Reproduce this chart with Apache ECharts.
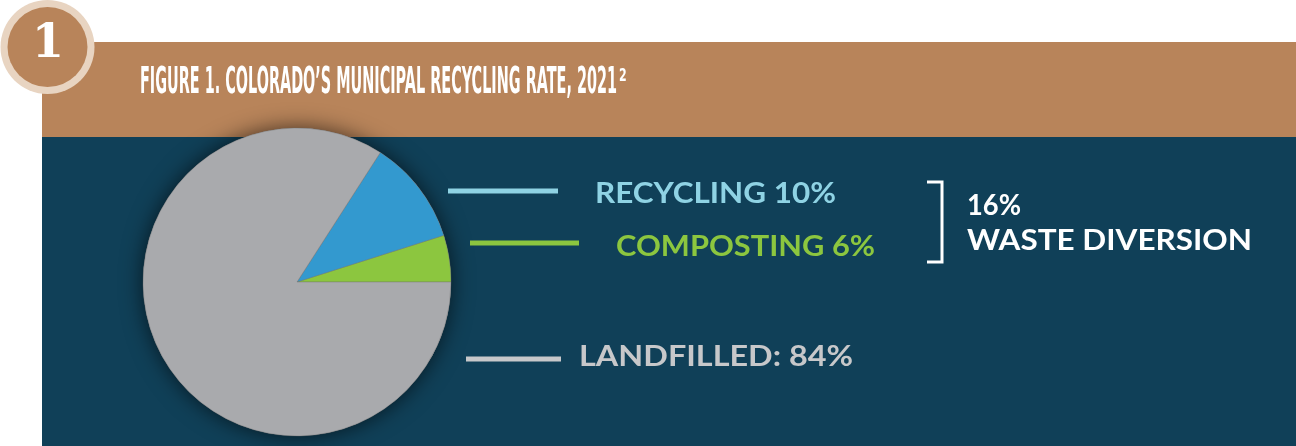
<!DOCTYPE html>
<html>
<head>
<meta charset="utf-8">
<script src="https://cdn.jsdelivr.net/npm/echarts@6/dist/echarts.min.js"></script>
<style>
  html, body { margin: 0; padding: 0; background: #ffffff; }
  #chart { width: 1296px; height: 446px; }
</style>
</head>
<body>
<div id="chart"></div>
<script>
const categories = ['Composting', 'Recycling', 'Landfilled'];
const sliceValues = [4.9, 11.0, 84.1];
const labelTexts = ['COMPOSTING 6%', 'RECYCLING 10%', 'LANDFILLED: 84%'];
const diversionTexts = ['16%', 'WASTE DIVERSION'];
const titleText = 'FIGURE 1. COLORADO\u2019S MUNICIPAL RECYCLING RATE, 2021';
const titleSup = '2';
const badgeText = '1';

const sliceColors = ['#8cc63f', '#3399cf', '#a9aaad'];
const labelColors = ['#8cc63f', '#8fd3e4', '#c7c8ca'];

const chart = echarts.init(document.getElementById('chart'));

// measure text so it can be squeezed to the width in the picture
const ctx = document.createElement('canvas').getContext('2d');
const fitScale = (text, f, width) => {
  ctx.font = f.fontWeight + ' ' + f.fontSize + 'px ' + f.fontFamily;
  return width / ctx.measureText(text).width;
};

const labelFont = { fontWeight: 'bold', fontSize: 29, fontFamily: 'Lato' };
const titleFont = { fontWeight: 'bold', fontSize: 37, fontFamily: 'DejaVu Sans' };
// [lineX1, lineX2, lineY, textX, textWidth, textMidY]
const labelLayout = [
  [470, 579, 243, 616, 259, 246.5],
  [448, 558, 191, 595, 241, 193.5],
  [466, 561, 359, 579, 274, 357]
];

const graphics = [
  { type: 'rect', z: 0, shape: { x: 42, y: 42, width: 1254, height: 95 }, style: { fill: '#b8845a' } },
  { type: 'rect', z: 0, shape: { x: 42, y: 137, width: 1254, height: 309 }, style: { fill: '#104058' } },
  { type: 'circle', z: 1, shape: { cx: 47.5, cy: 47, r: 47 }, style: { fill: '#e8d4c1' } },
  { type: 'circle', z: 1, shape: { cx: 47.5, cy: 47, r: 40 }, style: { fill: '#b8845a' } },
  {
    type: 'text', z: 2, x: 48, y: 45,
    style: { text: badgeText, fontWeight: 'bold', fontSize: 46, fontFamily: 'DejaVu Serif', fill: '#ffffff', textAlign: 'center', textVerticalAlign: 'middle' }
  }
];

graphics.push({
  type: 'text', z: 2, x: 140, y: 83,
  scaleX: fitScale(titleText, titleFont, 477),
  scaleY: 1,
  style: Object.assign({ text: titleText, fill: '#ffffff', textVerticalAlign: 'middle' }, titleFont)
});
graphics.push({
  type: 'text', z: 2, x: 619, y: 77,
  scaleX: 0.65,
  style: { text: titleSup, fontWeight: 'bold', fontSize: 17, fontFamily: 'DejaVu Sans', fill: '#ffffff', textVerticalAlign: 'middle' }
});

labelTexts.forEach((t, i) => {
  const [x1, x2, ly, tx, tw, ty] = labelLayout[i];
  graphics.push({
    type: 'line', z: 5,
    shape: { x1: x1, y1: ly, x2: x2, y2: ly },
    style: { stroke: labelColors[i], lineWidth: 5 }
  });
  graphics.push({
    type: 'text', z: 5, x: tx, y: ty,
    scaleX: fitScale(t, labelFont, tw),
    style: Object.assign({ text: t, fill: labelColors[i], textVerticalAlign: 'middle' }, labelFont)
  });
});

// bracket and diversion note
graphics.push({
  type: 'polyline', z: 5,
  shape: { points: [[927, 182], [942, 182], [942, 262], [927, 262]] },
  style: { stroke: '#ffffff', lineWidth: 3, fill: null }
});
[[967, 54, 205.5], [967, 285, 241]].forEach(([tx, tw, ty], i) => {
  graphics.push({
    type: 'text', z: 5, x: tx, y: ty,
    scaleX: fitScale(diversionTexts[i], labelFont, tw),
    style: Object.assign({ text: diversionTexts[i], fill: '#ffffff', textVerticalAlign: 'middle' }, labelFont)
  });
});

const option = {
  animation: false,
  graphic: { elements: graphics },
  series: [
    {
      // shadow disc under the slices
      type: 'pie', z: 3, silent: true,
      center: [297, 282], radius: 154,
      label: { show: false }, labelLine: { show: false },
      data: [{ value: 1, itemStyle: { color: '#a9aaad', shadowBlur: 22, shadowColor: 'rgba(0,0,0,0.65)' } }]
    },
    {
      type: 'pie', z: 4,
      center: [297, 282], radius: 154,
      startAngle: 0, clockwise: false,
      label: { show: false }, labelLine: { show: false },
      itemStyle: { borderColor: 'rgba(110,110,110,0.6)', borderWidth: 0.6 },
      emphasis: { disabled: true },
      data: categories.map((c, i) => ({ name: c, value: sliceValues[i], itemStyle: { color: sliceColors[i] } }))
    }
  ]
};

chart.setOption(option);
</script>
</body>
</html>
